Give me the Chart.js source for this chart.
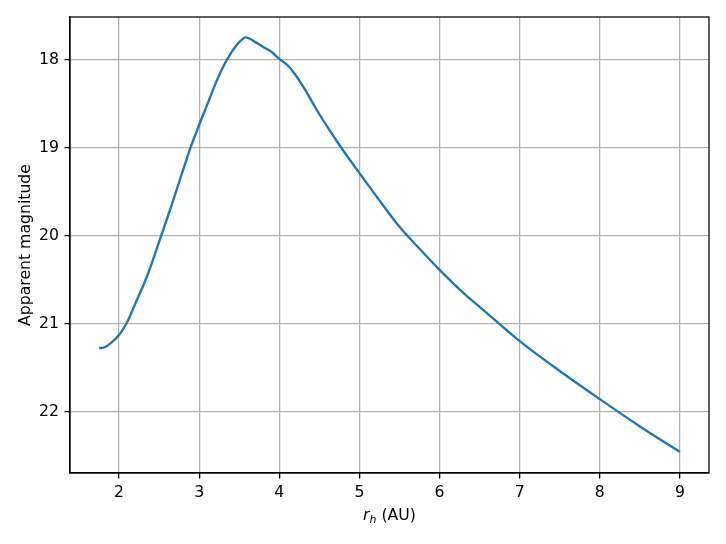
<!DOCTYPE html>
<html>
<head>
<meta charset="utf-8">
<script src="https://cdn.jsdelivr.net/npm/chart.js@4"></script>
<style>
  body { margin: 0; background: #fff; }
  canvas { display: block; }
</style>
</head>
<body>
<canvas id="mag-chart" width="726" height="544"></canvas>
<script>
// Heliocentric distance (AU) and apparent magnitude
const rhValues = [1.75, 1.82, 1.9, 2.0, 2.1, 2.2, 2.35, 2.5, 2.65, 2.8, 2.9, 3.0, 3.1, 3.2, 3.3, 3.4, 3.5, 3.58,
    3.7, 3.8, 3.9, 4.0, 4.1, 4.2, 4.3, 4.5, 4.75, 5.0, 5.25, 5.5, 5.75, 6.0, 6.33, 6.5, 7.0, 7.5, 8.0, 8.5, 9.0];
const magValues = [21.28, 21.27, 21.22, 21.13, 20.985, 20.78, 20.46, 20.07, 19.67, 19.25, 18.98, 18.74, 18.51, 18.28, 18.08, 17.92, 17.80, 17.745,
    17.80, 17.855, 17.91, 17.99, 18.06, 18.17, 18.31, 18.62, 18.97, 19.29, 19.60, 19.90, 20.15, 20.39, 20.68, 20.81, 21.20, 21.54, 21.86, 22.17, 22.46];

// Tick labels
const xTicks = [2, 3, 4, 5, 6, 7, 8, 9];
const yTicks = [18, 19, 20, 21, 22];

const FONT = 'DejaVu Sans';
const FONT_SIZE = 15.7;

// Build the point list for Chart.js
const points = rhValues.map((x, i) => ({ x: x, y: magValues[i] }));

// Draw the frame and the axis titles (matplotlib style)
const framePlugin = {
    id: 'frame',
    afterDraw(chart) {
        const ctx = chart.ctx;
        const a = chart.chartArea;
        ctx.save();
        ctx.strokeStyle = '#000';
        ctx.lineWidth = 1.26;
        ctx.strokeRect(a.left, a.top, a.right - a.left, a.bottom - a.top);

        ctx.fillStyle = '#000';
        // y axis title
        ctx.save();
        ctx.translate(29.5, (a.top + a.bottom) / 2);
        ctx.rotate(-Math.PI / 2);
        ctx.font = FONT_SIZE + 'px "' + FONT + '"';
        ctx.textAlign = 'center';
        ctx.textBaseline = 'alphabetic';
        ctx.fillText('Apparent magnitude', 0, 0);
        ctx.restore();

        // x axis title: italic r with subscript h, then (AU)
        const base = 520;
        const italic = 'italic ' + FONT_SIZE + 'px "' + FONT + '"';
        const sub = 'italic ' + (FONT_SIZE * 0.7) + 'px "' + FONT + '"';
        const normal = FONT_SIZE + 'px "' + FONT + '"';
        ctx.font = italic; const wR = ctx.measureText('r').width;
        ctx.font = sub; const wH = ctx.measureText('h').width;
        ctx.font = normal; const wRest = ctx.measureText(' (AU)').width;
        let x = (a.left + a.right) / 2 - (wR + wH + wRest) / 2;
        ctx.textAlign = 'left';
        ctx.textBaseline = 'alphabetic';
        ctx.font = italic; ctx.fillText('r', x, base); x += wR;
        ctx.font = sub; ctx.fillText('h', x, base + 3); x += wH;
        ctx.font = normal; ctx.fillText(' (AU)', x, base);
        ctx.restore();
    }
};

const gridStyle = {
    color: '#b0b0b0',
    lineWidth: 1.26,
    drawTicks: true,
    tickLength: 5.5,
    tickColor: '#000',
    tickWidth: 1.26
};

const ctx = document.getElementById('mag-chart').getContext('2d');
new Chart(ctx, {
    type: 'line',
    data: {
        datasets: [{
            data: points,
            borderColor: '#1f77b4',
            borderWidth: 2.36,
            pointRadius: 0,
            fill: false,
            cubicInterpolationMode: 'monotone'
        }]
    },
    options: {
        responsive: false,
        animation: false,
        devicePixelRatio: 1,
        layout: { padding: { left: 0, right: 17, top: 17, bottom: 0 } },
        plugins: {
            legend: { display: false },
            tooltip: { enabled: false }
        },
        scales: {
            x: {
                type: 'linear',
                min: 1.3875,
                max: 9.3625,
                grid: gridStyle,
                border: { display: true, color: '#000', width: 1.26 },
                ticks: {
                    color: '#000',
                    padding: 5.5,
                    maxRotation: 0,
                    font: { family: FONT, size: FONT_SIZE },
                    callback: v => String(v)
                },
                afterBuildTicks: scale => { scale.ticks = xTicks.map(v => ({ value: v })); },
                afterFit: scale => { scale.height = 71; }
            },
            y: {
                type: 'linear',
                reverse: true,
                min: 17.514,
                max: 22.70,
                grid: gridStyle,
                border: { display: true, color: '#000', width: 1.26 },
                ticks: {
                    color: '#000',
                    padding: 5.5,
                    font: { family: FONT, size: FONT_SIZE },
                    callback: v => String(v)
                },
                afterBuildTicks: scale => { scale.ticks = yTicks.map(v => ({ value: v })); },
                afterFit: scale => { scale.width = 70; }
            }
        }
    },
    plugins: [framePlugin]
});
</script>
</body>
</html>
